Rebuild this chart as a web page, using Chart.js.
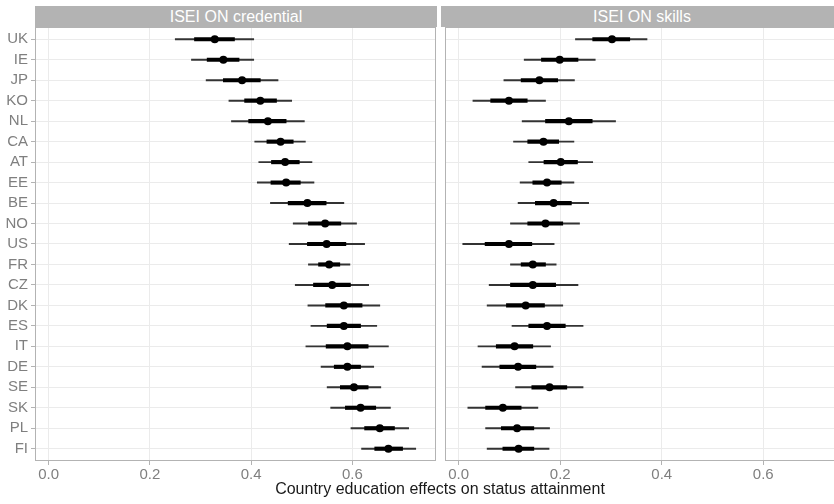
<!DOCTYPE html>
<html>
<head>
<meta charset="utf-8">
<script src="https://cdn.jsdelivr.net/npm/chart.js@4.4.0/dist/chart.umd.min.js"></script>
<style>
  html, body { margin: 0; padding: 0; background: #fff; overflow: hidden; }
  body { width: 834px; height: 504px; position: relative; font-family: "Liberation Sans", Arial, sans-serif; }
  canvas { position: absolute; top: 0; }
  .strip { position: absolute; top: 6px; height: 21px; background: #b3b3b3; color: #fff;
           font-size: 16px; line-height: 22px; text-align: center; }
  #xtitle { position: absolute; top: 480px; left: 240px; width: 400px; text-align: center;
            font-size: 16px; color: #1a1a1a; white-space: nowrap; }
</style>
</head>
<body>
<div class="strip" style="left:35px; width:402px;">ISEI ON credential</div>
<div class="strip" style="left:441px; width:402px;">ISEI ON skills</div>
<canvas id="credChart" width="440" height="504" style="left:0px"></canvas>
<canvas id="skillChart" width="410" height="504" style="left:441px"></canvas>
<div id="xtitle">Country education effects on status attainment</div>
<script>
// --- dados ---
const countries = ['UK', 'IE', 'JP', 'KO', 'NL', 'CA', 'AT', 'EE', 'BE', 'NO', 'US',
                   'FR', 'CZ', 'DK', 'ES', 'IT', 'DE', 'SE', 'SK', 'PL', 'FI'];
const xTicks = [0, 0.2, 0.4, 0.6];

// ISEI ON credential
const credEst   = [0.328, 0.345, 0.382, 0.418, 0.433, 0.458, 0.467, 0.469, 0.511, 0.546, 0.549,
                   0.554, 0.560, 0.583, 0.583, 0.590, 0.590, 0.603, 0.616, 0.654, 0.671];
const credLo50  = [0.288, 0.313, 0.345, 0.387, 0.395, 0.431, 0.440, 0.439, 0.473, 0.513, 0.511,
                   0.533, 0.523, 0.547, 0.550, 0.548, 0.564, 0.576, 0.586, 0.624, 0.644];
const credHi50  = [0.367, 0.376, 0.418, 0.450, 0.469, 0.483, 0.495, 0.497, 0.548, 0.577, 0.587,
                   0.575, 0.596, 0.619, 0.616, 0.631, 0.616, 0.631, 0.646, 0.683, 0.699];
const credLo95  = [0.250, 0.282, 0.311, 0.356, 0.361, 0.407, 0.415, 0.412, 0.438, 0.483, 0.475,
                   0.513, 0.487, 0.512, 0.518, 0.508, 0.538, 0.550, 0.557, 0.597, 0.618];
const credHi95  = [0.405, 0.405, 0.453, 0.480, 0.505, 0.507, 0.520, 0.524, 0.583, 0.608, 0.624,
                   0.595, 0.632, 0.654, 0.648, 0.671, 0.642, 0.656, 0.675, 0.711, 0.725];

// ISEI ON skills
const skillEst  = [0.302, 0.199, 0.159, 0.099, 0.217, 0.167, 0.201, 0.174, 0.187, 0.171, 0.099,
                   0.146, 0.146, 0.132, 0.174, 0.110, 0.117, 0.179, 0.087, 0.115, 0.118];
const skillLo50 = [0.264, 0.163, 0.123, 0.063, 0.171, 0.136, 0.168, 0.146, 0.151, 0.136, 0.052,
                   0.123, 0.102, 0.094, 0.138, 0.074, 0.081, 0.144, 0.053, 0.084, 0.087];
const skillHi50 = [0.337, 0.235, 0.195, 0.135, 0.263, 0.197, 0.234, 0.202, 0.222, 0.205, 0.144,
                   0.171, 0.191, 0.169, 0.210, 0.146, 0.152, 0.213, 0.123, 0.148, 0.148];
const skillLo95 = [0.230, 0.129, 0.089, 0.028, 0.125, 0.108, 0.138, 0.121, 0.117, 0.102, 0.008,
                   0.102, 0.060, 0.056, 0.105, 0.038, 0.046, 0.112, 0.018, 0.053, 0.056];
const skillHi95 = [0.371, 0.269, 0.228, 0.171, 0.309, 0.227, 0.264, 0.227, 0.256, 0.238, 0.188,
                   0.192, 0.235, 0.205, 0.245, 0.181, 0.186, 0.245, 0.156, 0.179, 0.178];

const FONT = { family: '"Liberation Sans", Arial, sans-serif', size: 15 };

// borda do painel (estilo ggplot)
const panelBorder = {
    id: 'panelBorder',
    afterDraw(chart) {
        const a = chart.chartArea, c = chart.ctx;
        c.save();
        c.strokeStyle = '#b3b3b3';
        c.lineWidth = 1;
        c.strokeRect(Math.round(a.left) + 0.5, Math.round(a.top) + 0.5,
                     Math.round(a.right - a.left) - 1, Math.round(a.bottom - a.top) - 1);
        c.restore();
    }
};

function buildChart(canvasId, est, lo50, hi50, lo95, hi95, showLabels) {
    const pts = est.map((v, i) => ({ x: v, y: i + 1 }));
    const thick = lo50.map((v, i) => ({ x: [v, hi50[i]], y: i + 1 }));
    const thin = lo95.map((v, i) => ({ x: [v, hi95[i]], y: i + 1 }));

    return new Chart(document.getElementById(canvasId).getContext('2d'), {
        type: 'bar',
        data: {
            datasets: [
                {
                    type: 'scatter',
                    data: pts,
                    pointRadius: 4,
                    pointBackgroundColor: '#000',
                    pointBorderWidth: 0,
                    order: 1
                },
                {
                    data: thick,
                    backgroundColor: '#000',
                    barThickness: 3.5,
                    grouped: false,
                    order: 2
                },
                {
                    data: thin,
                    backgroundColor: '#333',
                    barThickness: 1.3,
                    grouped: false,
                    order: 3
                }
            ]
        },
        options: {
            indexAxis: 'y',
            responsive: false,
            animation: false,
            layout: { padding: { top: 27, right: 3, left: 0, bottom: 0 } },
            plugins: { legend: { display: false }, tooltip: { enabled: false } },
            scales: {
                x: {
                    type: 'linear',
                    min: -0.027,
                    max: 0.765,
                    afterBuildTicks: s => { s.ticks = xTicks.map(v => ({ value: v })); },
                    afterFit: s => { s.height = 43; },
                    ticks: {
                        callback: v => v.toFixed(1),
                        color: '#7f7f7f',
                        font: FONT,
                        padding: 1,
                        maxRotation: 0
                    },
                    grid: { color: '#ebebeb', tickColor: '#b3b3b3', tickLength: 4 },
                    border: { display: false }
                },
                y: {
                    type: 'linear',
                    reverse: true,
                    offset: false,
                    min: 0.4,
                    max: 21.6,
                    afterBuildTicks: s => { s.ticks = countries.map((c, i) => ({ value: i + 1 })); },
                    afterFit: s => { s.width = showLabels ? 35 : 0; },
                    ticks: {
                        display: showLabels,
                        autoSkip: false,
                        callback: v => countries[v - 1],
                        color: '#7f7f7f',
                        font: FONT,
                        padding: 3
                    },
                    grid: { offset: false, color: '#ebebeb', tickColor: '#b3b3b3', tickLength: 4, drawTicks: showLabels },
                    border: { display: false }
                }
            }
        },
        plugins: [panelBorder]
    });
}

buildChart('credChart', credEst, credLo50, credHi50, credLo95, credHi95, true);
buildChart('skillChart', skillEst, skillLo50, skillHi50, skillLo95, skillHi95, false);
</script>
</body>
</html>
